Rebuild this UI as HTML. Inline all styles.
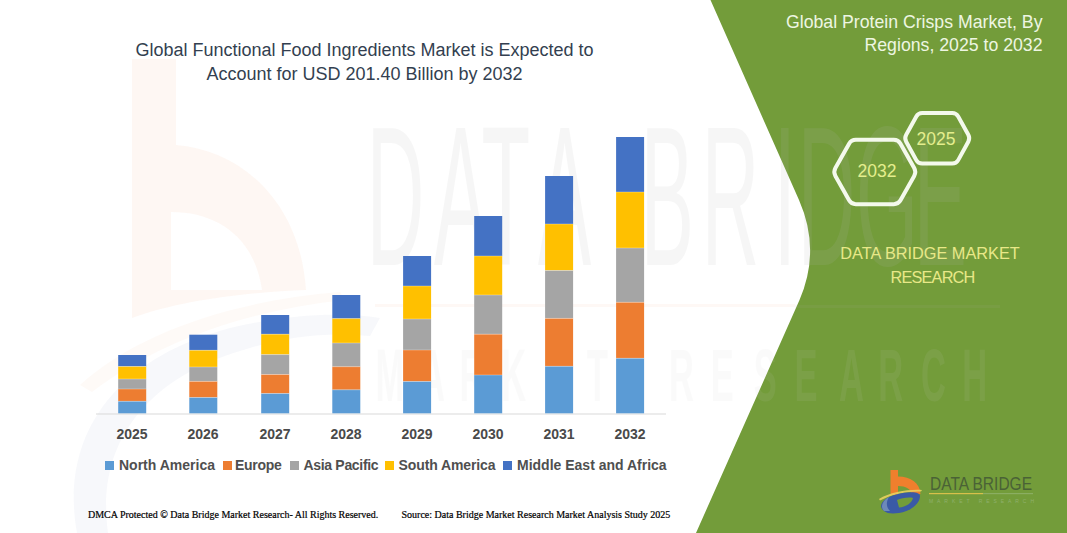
<!DOCTYPE html>
<html><head><meta charset="utf-8">
<style>
html,body{margin:0;padding:0;background:#fff;}
body{width:1067px;height:533px;position:relative;overflow:hidden;font-family:"Liberation Sans",sans-serif;}
.abs{position:absolute;white-space:nowrap;}
#title{left:0;width:729px;top:37.8px;text-align:center;color:#333f50;font-size:18px;line-height:24.5px;}
.yr{position:absolute;top:426px;width:60px;text-align:center;font-weight:bold;font-size:14px;color:#4a4a4a;}
.leg{position:absolute;top:456.5px;font-weight:bold;font-size:14px;color:#4f4f4f;}
.sq{position:absolute;top:461px;width:9px;height:9px;}
#gtitle{right:24.5px;top:11px;text-align:right;color:#eef6e2;font-size:17.7px;line-height:23.2px;}
.hyr{position:absolute;color:#e4ee8e;font-size:17.5px;}
#dbmr{left:820px;width:220px;top:241px;text-align:center;color:#e8e888;font-size:16.3px;line-height:24px;}
.foot{position:absolute;top:509px;font-family:"Liberation Serif",serif;font-size:10px;color:#000;-webkit-text-stroke:0.2px #000;}
</style></head>
<body>
<svg class="abs" style="left:0;top:0" width="1067" height="533" viewBox="0 0 1067 533">
  <!-- green panel -->
  <path d="M710.5,0 L799,200 Q821,250 799.5,300 L696,533 L1067,533 L1067,0 Z" fill="#739c3a"/>

  <!-- watermark -->
  <g id="wm">
    <path d="M132,59 L176,59 L176,145 C240,150 300,200 306,290 C250,292 180,300 132,318 Z M171,212 L171,290 L262,290 C255,240 220,212 171,212 Z" fill="#ee7f35" fill-rule="evenodd" opacity="0.06"/>
    <path d="M80,385 C140,330 240,300 340,292 L345,300 C250,310 160,340 92,392 Z" fill="#ee7f35" opacity="0.04"/>
    <path d="M77,533 C60,440 110,360 230,328 C290,314 340,312 380,318 L370,336 C330,332 290,336 250,348 C150,375 95,440 108,533 Z" fill="#3a5aa6" opacity="0.045"/>
    <text transform="scale(0.4,1)" x="916.6 1085.0 1203.5 1345.0 1601.6 1754.1 1934.6 1994.1 2140.0 2284.1" y="265" font-family="Liberation Sans" font-size="199" fill="#b8b8b8" opacity="0.12">DATABRIDGE</text>
    <rect x="375" y="304" width="420" height="3" fill="#ee7f35" opacity="0.05"/>
    <rect x="795" y="305" width="205" height="3" fill="#adadad" opacity="0.08"/>
    <text transform="scale(0.46,1)" x="816.5 912.8 998.7 1089.7 1180.8 1275.7 1454.1 1545.2 1638.5 1727.4 1823.7 1909.5 2002.1 2091.7" y="401" font-family="Liberation Sans" font-weight="bold" font-size="75" fill="#d0d0d0" opacity="0.085">MARKETRESEARCH</text>
  </g>
  <!-- axis -->
  <line x1="96" y1="414" x2="666" y2="414" stroke="#d9d9d9" stroke-width="1"/>
  <!-- bars -->
  <g id="bars">
  <rect x="118.2" y="355" width="28" height="11.5" fill="#4472c4"/>
  <rect x="118.2" y="366.5" width="28" height="12.5" fill="#ffc000"/>
  <rect x="118.2" y="379" width="28" height="10.0" fill="#a5a5a5"/>
  <rect x="118.2" y="389" width="28" height="12.3" fill="#ed7d31"/>
  <rect x="118.2" y="401.3" width="28" height="12.0" fill="#5b9bd5"/>
  <rect x="118.2" y="366.0" width="28" height="1" fill="#fff" opacity="0.3"/>
  <rect x="118.2" y="378.5" width="28" height="1" fill="#fff" opacity="0.3"/>
  <rect x="118.2" y="388.5" width="28" height="1" fill="#fff" opacity="0.3"/>
  <rect x="118.2" y="400.8" width="28" height="1" fill="#fff" opacity="0.3"/>
  <rect x="189.3" y="334.7" width="28" height="15.6" fill="#4472c4"/>
  <rect x="189.3" y="350.3" width="28" height="16.7" fill="#ffc000"/>
  <rect x="189.3" y="367" width="28" height="14.4" fill="#a5a5a5"/>
  <rect x="189.3" y="381.4" width="28" height="16.1" fill="#ed7d31"/>
  <rect x="189.3" y="397.5" width="28" height="15.8" fill="#5b9bd5"/>
  <rect x="189.3" y="349.8" width="28" height="1" fill="#fff" opacity="0.3"/>
  <rect x="189.3" y="366.5" width="28" height="1" fill="#fff" opacity="0.3"/>
  <rect x="189.3" y="380.9" width="28" height="1" fill="#fff" opacity="0.3"/>
  <rect x="189.3" y="397.0" width="28" height="1" fill="#fff" opacity="0.3"/>
  <rect x="261.2" y="315" width="28" height="19.2" fill="#4472c4"/>
  <rect x="261.2" y="334.2" width="28" height="20.4" fill="#ffc000"/>
  <rect x="261.2" y="354.6" width="28" height="19.9" fill="#a5a5a5"/>
  <rect x="261.2" y="374.5" width="28" height="19.0" fill="#ed7d31"/>
  <rect x="261.2" y="393.5" width="28" height="19.8" fill="#5b9bd5"/>
  <rect x="261.2" y="333.7" width="28" height="1" fill="#fff" opacity="0.3"/>
  <rect x="261.2" y="354.1" width="28" height="1" fill="#fff" opacity="0.3"/>
  <rect x="261.2" y="374.0" width="28" height="1" fill="#fff" opacity="0.3"/>
  <rect x="261.2" y="393.0" width="28" height="1" fill="#fff" opacity="0.3"/>
  <rect x="332.3" y="295" width="28" height="23.6" fill="#4472c4"/>
  <rect x="332.3" y="318.6" width="28" height="24.4" fill="#ffc000"/>
  <rect x="332.3" y="343" width="28" height="23.7" fill="#a5a5a5"/>
  <rect x="332.3" y="366.7" width="28" height="23.1" fill="#ed7d31"/>
  <rect x="332.3" y="389.8" width="28" height="23.5" fill="#5b9bd5"/>
  <rect x="332.3" y="318.1" width="28" height="1" fill="#fff" opacity="0.3"/>
  <rect x="332.3" y="342.5" width="28" height="1" fill="#fff" opacity="0.3"/>
  <rect x="332.3" y="366.2" width="28" height="1" fill="#fff" opacity="0.3"/>
  <rect x="332.3" y="389.3" width="28" height="1" fill="#fff" opacity="0.3"/>
  <rect x="403.1" y="256" width="28" height="30.0" fill="#4472c4"/>
  <rect x="403.1" y="286" width="28" height="33.0" fill="#ffc000"/>
  <rect x="403.1" y="319" width="28" height="31.0" fill="#a5a5a5"/>
  <rect x="403.1" y="350" width="28" height="31.5" fill="#ed7d31"/>
  <rect x="403.1" y="381.5" width="28" height="31.8" fill="#5b9bd5"/>
  <rect x="403.1" y="285.5" width="28" height="1" fill="#fff" opacity="0.3"/>
  <rect x="403.1" y="318.5" width="28" height="1" fill="#fff" opacity="0.3"/>
  <rect x="403.1" y="349.5" width="28" height="1" fill="#fff" opacity="0.3"/>
  <rect x="403.1" y="381.0" width="28" height="1" fill="#fff" opacity="0.3"/>
  <rect x="474.2" y="216" width="28" height="40.0" fill="#4472c4"/>
  <rect x="474.2" y="256" width="28" height="39.0" fill="#ffc000"/>
  <rect x="474.2" y="295" width="28" height="39.2" fill="#a5a5a5"/>
  <rect x="474.2" y="334.2" width="28" height="40.8" fill="#ed7d31"/>
  <rect x="474.2" y="375" width="28" height="38.3" fill="#5b9bd5"/>
  <rect x="474.2" y="255.5" width="28" height="1" fill="#fff" opacity="0.3"/>
  <rect x="474.2" y="294.5" width="28" height="1" fill="#fff" opacity="0.3"/>
  <rect x="474.2" y="333.7" width="28" height="1" fill="#fff" opacity="0.3"/>
  <rect x="474.2" y="374.5" width="28" height="1" fill="#fff" opacity="0.3"/>
  <rect x="545.1" y="176" width="28" height="48.0" fill="#4472c4"/>
  <rect x="545.1" y="224" width="28" height="46.5" fill="#ffc000"/>
  <rect x="545.1" y="270.5" width="28" height="47.9" fill="#a5a5a5"/>
  <rect x="545.1" y="318.4" width="28" height="47.9" fill="#ed7d31"/>
  <rect x="545.1" y="366.3" width="28" height="47.0" fill="#5b9bd5"/>
  <rect x="545.1" y="223.5" width="28" height="1" fill="#fff" opacity="0.3"/>
  <rect x="545.1" y="270.0" width="28" height="1" fill="#fff" opacity="0.3"/>
  <rect x="545.1" y="317.9" width="28" height="1" fill="#fff" opacity="0.3"/>
  <rect x="545.1" y="365.8" width="28" height="1" fill="#fff" opacity="0.3"/>
  <rect x="616.1" y="137" width="28" height="55.0" fill="#4472c4"/>
  <rect x="616.1" y="192" width="28" height="56.0" fill="#ffc000"/>
  <rect x="616.1" y="248" width="28" height="54.3" fill="#a5a5a5"/>
  <rect x="616.1" y="302.3" width="28" height="56.0" fill="#ed7d31"/>
  <rect x="616.1" y="358.3" width="28" height="55.0" fill="#5b9bd5"/>
  <rect x="616.1" y="191.5" width="28" height="1" fill="#fff" opacity="0.3"/>
  <rect x="616.1" y="247.5" width="28" height="1" fill="#fff" opacity="0.3"/>
  <rect x="616.1" y="301.8" width="28" height="1" fill="#fff" opacity="0.3"/>
  <rect x="616.1" y="357.8" width="28" height="1" fill="#fff" opacity="0.3"/>
  </g>

  <!-- logo -->
  <g id="logo">
    <path d="M890.5,470 L898,470 L898,476.5 C911,476.5 920,483 920.5,494 L911.5,494 C911,489 906,486 898,486 L898,495 L890.5,495 Z" fill="#ef7f2d"/>
    <path d="M879,499 C890,492 910,489 922,490 L921,491.5 C909,491 892,494 880,500.5 Z" fill="#e8d060" opacity="0.9"/>
    <path d="M884,511 C877,506 883,498 896,494.5 C908,491.5 920,491 920,496 C920,503 912,511 899,513 C892,514 887,513.5 884,511 Z M897,500 L899,507.5 C906,507 912,503 913,498 C909,497 901,498 897,500 Z" fill="#3a5aa6" fill-rule="evenodd"/>
    <path d="M884,511 C880,507 882,501 889,497 C886,502 886,507 890,511 Z" fill="#8fa8c8" opacity="0.6"/>
  </g>
  <text x="930" y="490.3" font-family="Liberation Sans" font-size="18.5" fill="#4a6236" textLength="102" lengthAdjust="spacingAndGlyphs">DATA BRIDGE</text>
  <rect x="929" y="493" width="54" height="1.2" fill="#d8c04a"/>
  <rect x="983" y="493" width="50" height="1.2" fill="#8aae62"/>
  <text x="929" y="503" font-family="Liberation Sans" font-size="5" fill="#8fb06c" textLength="105" lengthAdjust="spacing">MARKET RESEARCH</text>
  <!-- hexagons -->
  <path id="hs" d="M906.2,141.8 Q904.2,138.3 906.2,134.8 L916.3,116.5 Q918.2,113.0 922.2,113.0 L952.2,113.0 Q956.2,113.0 958.2,116.5 L968.3,134.8 Q970.2,138.3 968.3,141.8 L958.2,160.1 Q956.2,163.6 952.2,163.6 L922.2,163.6 Q918.2,163.6 916.3,160.1 Z" fill="none" stroke="#f4f9ec" stroke-width="4" stroke-linejoin="round"/>
  <path id="hb" d="M835.4,175.9 Q833.2,172.0 835.4,168.1 L849.1,143.7 Q851.3,139.8 855.8,139.8 L893.8,139.8 Q898.3,139.8 900.5,143.7 L914.2,168.1 Q916.4,172.0 914.2,175.9 L900.5,200.3 Q898.3,204.2 893.8,204.2 L855.8,204.2 Q851.3,204.2 849.1,200.3 Z" fill="none" stroke="#f4f9ec" stroke-width="4" stroke-linejoin="round"/>
</svg>
<div id="title" class="abs">Global Functional Food Ingredients Market is Expected to<br>Account for USD 201.40 Billion by 2032</div>

<div class="yr" style="left:102px">2025</div>
<div class="yr" style="left:173px">2026</div>
<div class="yr" style="left:245px">2027</div>
<div class="yr" style="left:316px">2028</div>
<div class="yr" style="left:387px">2029</div>
<div class="yr" style="left:458px">2030</div>
<div class="yr" style="left:529px">2031</div>
<div class="yr" style="left:600px">2032</div>

<div class="sq" style="left:105px;background:#5b9bd5"></div><div class="leg" style="left:119px">North America</div>
<div class="sq" style="left:223px;background:#ed7d31"></div><div class="leg" style="left:235px;letter-spacing:-0.3px">Europe</div>
<div class="sq" style="left:290px;background:#a5a5a5"></div><div class="leg" style="left:303.5px;letter-spacing:-0.32px">Asia Pacific</div>
<div class="sq" style="left:385px;background:#ffc000"></div><div class="leg" style="left:398.5px;letter-spacing:-0.1px">South America</div>
<div class="sq" style="left:503px;background:#4472c4"></div><div class="leg" style="left:517px">Middle East and Africa</div>

<div id="gtitle" class="abs">Global Protein Crisps Market, By<br>Regions, 2025 to 2032</div>
<div class="hyr" style="left:916.5px;top:128.8px">2025</div>
<div class="hyr" style="left:857.5px;top:160.5px">2032</div>
<div id="dbmr" class="abs">DATA BRIDGE MARKET<br><span style="letter-spacing:-0.8px;margin-left:5px">RESEARCH</span></div>

<div class="foot" style="left:88px">DMCA Protected © Data Bridge Market Research- All Rights Reserved.</div>
<div class="foot" style="left:401.5px">Source: Data Bridge Market Research Market Analysis Study 2025</div>
</body></html>
